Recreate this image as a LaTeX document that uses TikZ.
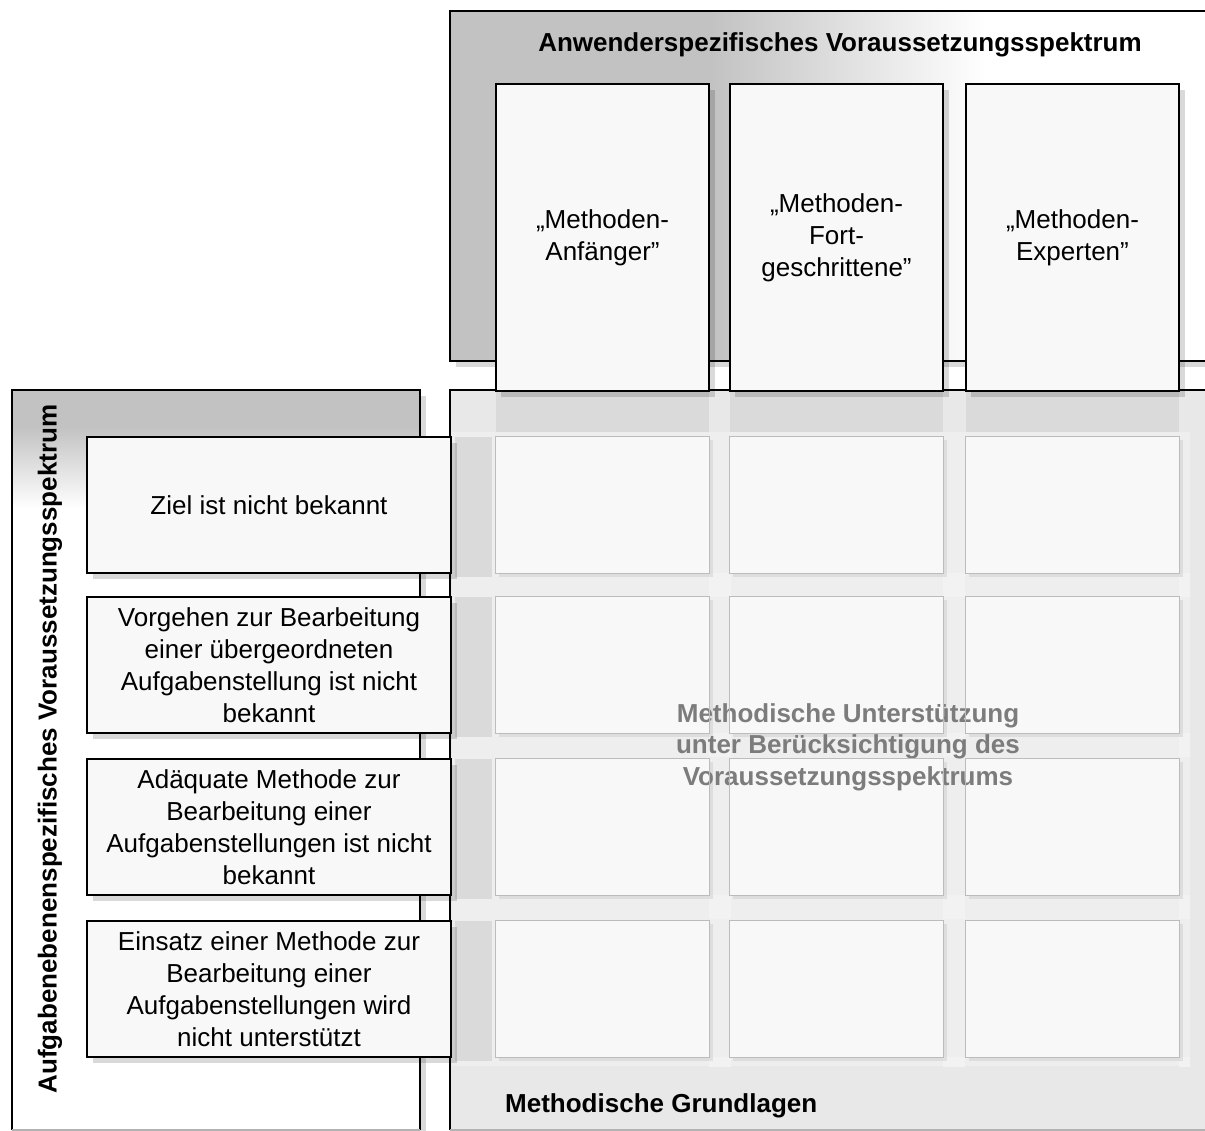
\documentclass[tikz,border=0pt]{standalone}
\usepackage{fontspec}
\setmainfont{Liberation Sans}
\definecolor{panelgray}{HTML}{C2C2C2}
\definecolor{boxfill}{HTML}{F8F8F8}
\definecolor{gridbase}{HTML}{E8E8E8}
\definecolor{lanelight}{HTML}{EEEEEE}
\definecolor{gaplight}{HTML}{F2F2F2}
\definecolor{banddark}{HTML}{DADADA}
\definecolor{cellline}{HTML}{BCBCBC}
\definecolor{softtext}{HTML}{7C7C7C}
% TikZ maps a path onto the band 25bp..75bp of a shading
\pgfdeclarehorizontalshading{topfade}{100bp}{color(0bp)=(panelgray); color(42bp)=(panelgray); color(60bp)=(white); color(100bp)=(white)}
\pgfdeclareverticalshading{leftfade}{100bp}{color(0bp)=(white); color(67bp)=(white); color(72.5bp)=(panelgray); color(100bp)=(panelgray)}
\newcommand{\lblfont}{\fontsize{26}{32}\selectfont}
\newcommand{\ttlfont}{\fontsize{26}{31.5}\selectfont\bfseries}
\begin{document}
\begin{tikzpicture}[x=1pt,y=-1pt,
  frame/.style={draw=black, line width=1.5pt},
  shadowfill/.style={fill=black, fill opacity=0.15},
  hdrbox/.style={draw=black, line width=1.5pt, fill=boxfill, minimum width=213pt,
    minimum height=307pt, inner sep=0pt, align=center, font=\lblfont},
  rowbox/.style={draw=black, line width=1.5pt, fill=boxfill, minimum width=364pt,
    minimum height=136pt, inner sep=0pt, align=center, font=\lblfont},
  cellbox/.style={fill=boxfill, minimum width=213pt, minimum height=136pt, inner sep=0pt},
  title/.style={font=\ttlfont, inner sep=0pt}
]
\useasboundingbox (0,0) rectangle (1205,1131);
\clip (0,0) rectangle (1205,1131);

% ---- upper panel: user-specific spectrum
\fill[shadowfill] (456,17) rectangle (1221,367);
\shade[shading=topfade] (450,11) rectangle (1215,361);
\draw[frame] (450,11) rectangle (1215,361);
\node[title] (toptitle) at (840,45) {Anwenderspezifisches Voraussetzungsspektrum};

% ---- left panel: task-level spectrum
\fill[shadowfill] (18,396) rectangle (426,1136);
\shade[shading=leftfade] (12,390) rectangle (420,1130);
\draw[frame] (12,1130) -- (12,390) -- (420,390) -- (420,1130);
\draw[gray!60, line width=1.5pt] (12,1130) -- (420,1130);

% ---- central panel: methodical basis
\fill[gridbase] (450,390) rectangle (1215,1130);
\fill[lanelight] (452,432) rectangle (1190,1066);
\begin{scope}
  \clip (452,432) rectangle (1190,1066);
  \foreach \gx in {709,943,1179}{
    \foreach \gy in {573,733,895,1057}{
      \fill[gaplight] (\gx,\gy) rectangle ++(22,24);
    }
  }
\end{scope}
\foreach \cl/\cr in {496/709,730/943,966/1179}{
  \fill[banddark] (\cl,391) rectangle (\cr,432);
}
\foreach \rt/\rb in {437/573,597/733,759/895,921/1057}{
  \fill[banddark] (455,\rt) rectangle (492,\rb+4);
}
\draw[frame] (450,1130) -- (450,390) -- (1215,390);
\draw[gray!60, line width=1.5pt] (450,1130) -- (1215,1130);

% ---- matrix cells
\foreach \cx [count=\i] in {602.5,836.5,1072.5}{
  \foreach \cy [count=\j] in {505,665,827,989}{
    \fill[black, fill opacity=0.07] (\cx-103.5,\cy-65) rectangle (\cx+110.5,\cy+72);
    \node[cellbox] (cell-\j-\i) at (\cx,\cy) {};
  }
}
\node[font=\ttlfont, text=softtext, align=center, inner sep=0pt] (support) at (848,747)
  {Methodische Unterstützung\\unter Berücksichtigung des\\Voraussetzungsspektrums};
\foreach \i in {1,2,3}{
  \foreach \j in {1,2,3,4}{
    \draw[cellline, line width=1.3pt] (cell-\j-\i.north west) rectangle (cell-\j-\i.south east);
  }
}

% ---- column headers
\foreach \cx in {602.5,836.5,1072.5}{
  \fill[shadowfill] (\cx-101.5,90) rectangle (\cx+112.5,397);
}
\node[hdrbox] (beginner) at (602.5,237.5) {„Methoden-\\Anfänger"};
\node[hdrbox] (advanced) at (836.5,237.5) {„Methoden-\\Fort-\\geschrittene"};
\node[hdrbox] (expert)   at (1072.5,237.5) {„Methoden-\\Experten"};

% ---- row headers
\foreach \cy in {505,665,827,989}{
  \fill[shadowfill] (93,\cy-62) rectangle (457,\cy+74);
}
\node[rowbox] (goal)   at (269,505) {Ziel ist nicht bekannt};
\node[rowbox] (proc)   at (269,665) {Vorgehen zur Bearbeitung\\einer übergeordneten\\Aufgabenstellung ist nicht\\bekannt};
\node[rowbox] (method) at (269,827) {Adäquate Methode zur\\Bearbeitung einer\\Aufgabenstellungen ist nicht\\bekannt};
\node[rowbox] (use)    at (269,989) {Einsatz einer Methode zur\\Bearbeitung einer\\Aufgabenstellungen wird\\nicht unterstützt};

% ---- panel captions
\node[title, anchor=west] (basis) at (505,1106) {Methodische Grundlagen};
\node[title, rotate=90] (lefttitle) at (50,749) {Aufgabenebenenspezifisches Voraussetzungsspektrum};
\end{tikzpicture}
\end{document}
